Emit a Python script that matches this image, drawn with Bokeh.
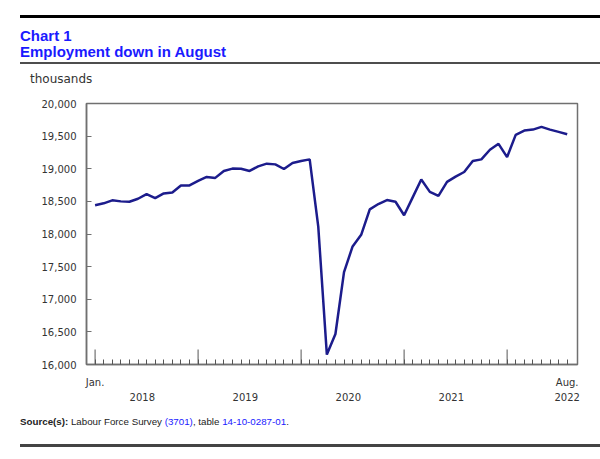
import math
from bokeh.plotting import figure
from bokeh.models import Div, FixedTicker, NumeralTickFormatter, Range1d
from bokeh.layouts import column
from bokeh.embed import file_html
from bokeh.resources import INLINE

# ---- data (thousands of persons employed, monthly Jan. 2018 - Aug. 2022) ----
years = ["2018", "2019", "2020", "2021", "2022"]
first_month_label = "Jan."
last_month_label = "Aug."
employment = [
    18440, 18470, 18516, 18500, 18495, 18540, 18611, 18550, 18622, 18637, 18744, 18744,   # 2018
    18814, 18875, 18860, 18966, 19002, 19000, 18966, 19037, 19078, 19067, 18996, 19088,   # 2019
    19118, 19144, 18114, 16152, 16467, 17415, 17810, 17988, 18378, 18459, 18520, 18494,   # 2020
    18287, 18561, 18835, 18646, 18585, 18798, 18880, 18950, 19118, 19144, 19291, 19382,   # 2021
    19179, 19519, 19585, 19600, 19641, 19600, 19565, 19529,                               # 2022
]
y_ticks = [16000, 16500, 17000, 17500, 18000, 18500, 19000, 19500, 20000]

x = list(range(len(employment)))
year_starts = [12 * k for k in range(len(years))]
last = len(employment) - 1

label_map = {0: first_month_label}
for k, yr in enumerate(years[:-1]):
    label_map[year_starts[k] + 5.5] = "\n" + yr
label_map[last] = last_month_label + "\n" + years[-1]

FRAME = "#707070"
TICK = "#555555"
TXT = "#333333"
Y0, Y1 = 16000, 20000

p = figure(width=600, height=312, x_range=Range1d(-1.0, 56.2), y_range=Range1d(Y0, Y1),
           output_backend="svg", toolbar_location=None, margin=0,
           min_border_left=86, min_border_right=23, min_border_top=9, min_border_bottom=40)
p.grid.visible = False
p.outline_line_color = FRAME
p.outline_line_width = 1.5
p.background_fill_color = "white"
p.border_fill_color = "white"

# y axis
yax = p.yaxis[0]
yax.ticker = FixedTicker(ticks=y_ticks)
yax.formatter = NumeralTickFormatter(format="0,0")
yax.major_tick_in = 5
yax.major_tick_out = 0
yax.minor_tick_in = 0
yax.minor_tick_out = 0
yax.axis_line_color = FRAME
yax.axis_line_width = 1.5
yax.major_tick_line_color = FRAME
yax.major_label_text_font = "DejaVu Sans"
yax.major_label_text_font_size = "10px"
yax.major_label_text_color = TXT
yax.major_label_standoff = 10

# x axis: labels at label positions, monthly minor ticks inside the frame
xax = p.xaxis[0]
xax.ticker = FixedTicker(ticks=sorted(label_map.keys()), minor_ticks=x)
xax.major_label_overrides = label_map
xax.major_tick_line_color = None
xax.major_tick_in = 0
xax.major_tick_out = 0
xax.minor_tick_in = 5
xax.minor_tick_out = 0
xax.minor_tick_line_color = TICK
xax.axis_line_color = FRAME
xax.axis_line_width = 1.5
xax.major_label_standoff = 12
xax.major_label_text_font = "DejaVu Sans"
xax.major_label_text_font_size = "10px"
xax.major_label_text_color = TXT
xax.major_label_text_line_height = 1.45

# tall year-start ticks rising 15px from the x axis
p.ray(x=year_starts, y=[Y0] * len(year_starts), length=15, length_units="screen",
      angle=math.pi / 2, line_color=TICK, line_width=1)

p.line(x, employment, line_color="#1c1c8c", line_width=2.5)

header = Div(width=600, height=94, margin=0, text="""
<div style="position:relative;width:600px;height:94px;">
<div style="position:absolute;left:20px;top:15px;width:580px;height:3px;background:#000;"></div>
<div style="position:absolute;left:20px;top:28px;font:bold 15px/15.5px 'Liberation Sans',Arial,sans-serif;color:#1a1aff;white-space:nowrap;">Chart 1<br>Employment down in August</div>
<div style="position:absolute;left:20px;top:61.5px;width:580px;height:2px;background:#4d4d4d;"></div>
<div style="position:absolute;left:30px;top:71.6px;font:12px/14px 'DejaVu Sans',sans-serif;color:#333;white-space:nowrap;">thousands</div>
</div>""")

footer = Div(width=600, height=53, margin=0, text="""
<div style="position:relative;width:600px;height:53px;">
<div style="position:absolute;left:20px;top:10px;font:9.75px/11px 'Liberation Sans',Arial,sans-serif;color:#222;white-space:nowrap;"><b>Source(s):</b> Labour Force Survey <span style="color:#1a1aff">(3701)</span>, table <span style="color:#1a1aff">14-10-0287-01</span>.</div>
<div style="position:absolute;left:20px;top:38px;width:580px;height:2.5px;background:#444;"></div>
</div>""")

layout = column(header, p, footer, margin=0, spacing=0)
open("out.html", "w").write(file_html(layout, INLINE))
